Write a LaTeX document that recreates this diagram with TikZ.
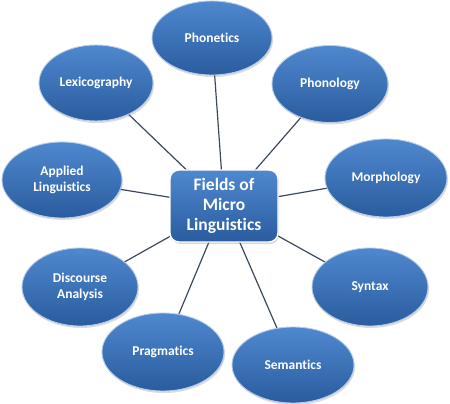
\documentclass[tikz,border=0pt]{standalone}
\usepackage{fontspec}
\setmainfont[Ligatures={NoCommon}]{Carlito}
\usetikzlibrary{shapes.geometric,shadows}
\definecolor{eltop}{HTML}{4F88CF}
\definecolor{elbot}{HTML}{2A5C9E}
\definecolor{elrim}{HTML}{B4CCEA}
\definecolor{linkc}{HTML}{3A4A5E}
\tikzset{
  leaf/.style={ellipse, inner sep=0pt, top color=eltop, bottom color=elbot,
    draw=elrim, line width=0.9pt, text=white, align=center,
    font=\bfseries\fontsize{13.5}{15.5}\selectfont,
    drop shadow={opacity=0.28, shadow xshift=1pt, shadow yshift=-2pt}},
  hub/.style={rectangle, rounded corners=9pt, inner sep=0pt, top color=eltop, bottom color=elbot,
    draw=white, line width=1.4pt, text=white, align=center,
    minimum width=108pt, minimum height=72pt,
    font=\bfseries\fontsize{17.5}{20}\selectfont,
    drop shadow={opacity=0.3, shadow xshift=1pt, shadow yshift=-2pt}},
  link/.style={draw=linkc, line width=1.2pt}
}
\begin{document}
\begin{tikzpicture}[x=1pt,y=-1pt]
\useasboundingbox (0,0) rectangle (450,404);
\coordinate (c) at (224,206);
\coordinate (pa) at (212,38);
\coordinate (pb) at (96,83);
\coordinate (pc) at (330,84);
\coordinate (pd) at (62,180);
\coordinate (pe) at (386,178);
\coordinate (pf) at (80,287);
\coordinate (pg) at (370,287);
\coordinate (ph) at (163,352);
\coordinate (pi) at (293,365);
\foreach \p in {pa,pb,pc,pd,pe,pf,pg,ph,pi} { \draw[link] (c) -- (\p); }
\node[leaf, minimum width=120pt, minimum height=74pt] (phonetics) at (pa) {Phonetics};
\node[leaf, minimum width=114pt, minimum height=76pt] (lexi) at (pb) {Lexicography};
\node[leaf, minimum width=116pt, minimum height=77pt] (phonology) at (pc) {Phonology};
\node[leaf, minimum width=120pt, minimum height=76pt] (applied) at (pd) {Applied\\Linguistics};
\node[leaf, minimum width=122pt, minimum height=78pt] (morph) at (pe) {Morphology};
\node[leaf, minimum width=116pt, minimum height=78pt] (disc) at (pf) {Discourse\\Analysis};
\node[leaf, minimum width=116pt, minimum height=78pt] (syntax) at (pg) {Syntax};
\node[leaf, minimum width=122pt, minimum height=78pt] (prag) at (ph) {Pragmatics};
\node[leaf, minimum width=122pt, minimum height=76pt] (sem) at (pi) {Semantics};
\node[hub] (hubn) at (c) {Fields of\\Micro\\Linguistics};
\end{tikzpicture}
\end{document}
